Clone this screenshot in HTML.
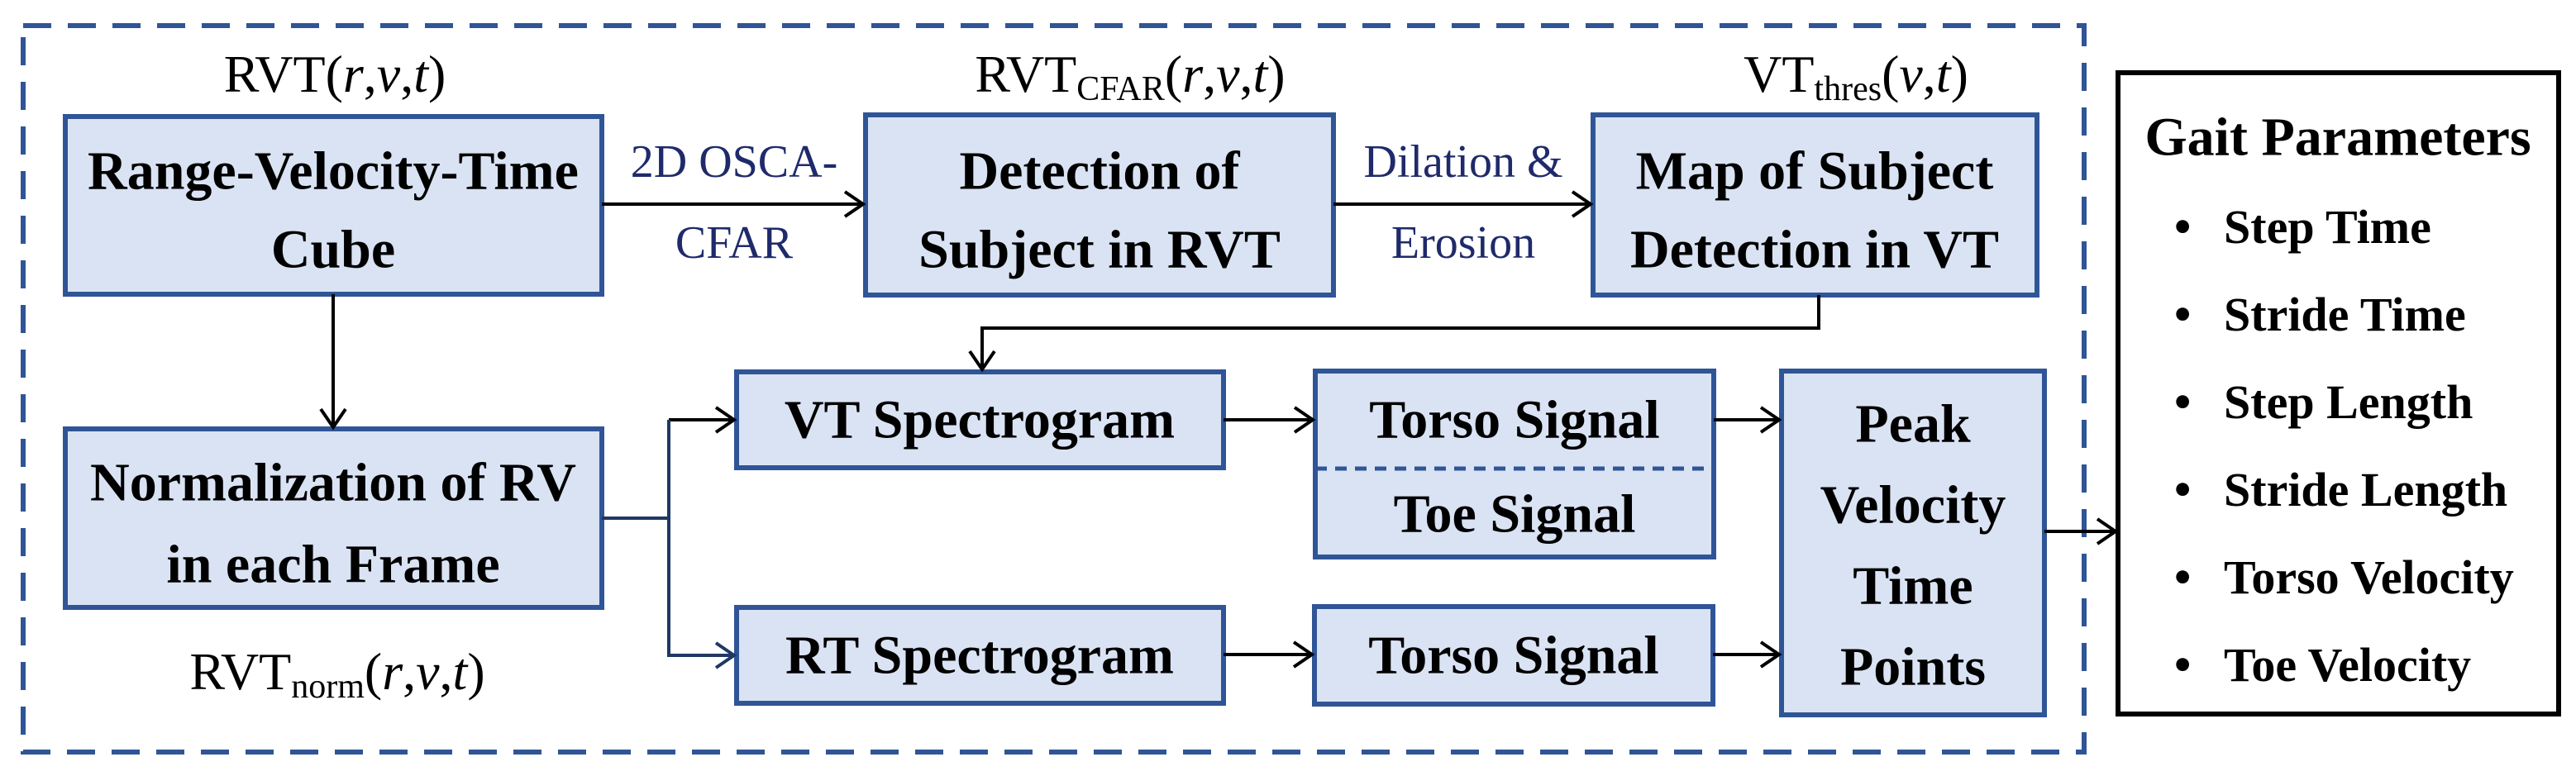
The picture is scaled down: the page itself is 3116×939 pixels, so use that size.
<!DOCTYPE html>
<html><head><meta charset="utf-8"><style>html,body{margin:0;padding:0;background:#fff}svg{display:block}text{font-family:"Liberation Serif","Times New Roman",serif}</style></head>
<body>
<svg width="3116" height="939" viewBox="0 0 3116 939" xmlns="http://www.w3.org/2000/svg">
<rect x="28" y="31" width="2493" height="879" fill="none" stroke="#2f5597" stroke-width="6" stroke-dasharray="34,20"/>
<g fill="#dae3f3" stroke="#2f5597" stroke-width="6">
<rect x="79" y="141" width="649" height="215"/>
<rect x="79" y="519" width="649" height="216"/>
<rect x="1047" y="139" width="566" height="218"/>
<rect x="1927" y="139" width="537" height="218"/>
<rect x="891" y="450" width="589" height="116"/>
<rect x="891" y="735" width="589" height="116"/>
<rect x="1591" y="449" width="482" height="225"/>
<rect x="1590" y="734" width="482" height="118"/>
<rect x="2155" y="449" width="318" height="416"/>
</g>
<line x1="1591" y1="567" x2="2073" y2="567" stroke="#2f5597" stroke-width="5" stroke-dasharray="14,10"/>
<rect x="2562" y="88" width="533" height="776" fill="#fff" stroke="#000" stroke-width="6"/>
<g fill="none" stroke="#000" stroke-width="4">
<path d="M728 247H1044M1022 232L1044 247L1022 262"/>
<path d="M1613 247H1924M1902 232L1924 247L1902 262"/>
<path d="M403 356V517M388 495L403 517L418 495"/>
<path d="M2200 357V397H1188V447M1173 425L1188 447L1203 425"/>
<path d="M1480 508H1588M1566 493L1588 508L1566 523"/>
<path d="M2073 508H2152M2130 493L2152 508L2130 523"/>
<path d="M1480 792H1587M1565 777L1587 792L1565 807"/>
<path d="M2072 792H2152M2130 777L2152 792L2130 807"/>
<path d="M2473 643H2559M2537 628L2559 643L2537 658"/>
<path d="M809 508H888M866 493L888 508L866 523"/>
</g>
<g fill="none" stroke="#1f3864" stroke-width="4">
<path d="M728 627H809M809 508V793H888M866 778L888 793L866 808"/>
</g>
<g font-size="64" text-anchor="middle" fill="#000">
<text x="405" y="111">RVT(<tspan font-style="italic">r</tspan>,<tspan font-style="italic">v</tspan>,<tspan font-style="italic">t</tspan>)</text>
<text x="1367" y="111">RVT<tspan font-size="42" dy="10">CFAR</tspan><tspan dy="-10">(</tspan><tspan font-style="italic">r</tspan>,<tspan font-style="italic">v</tspan>,<tspan font-style="italic">t</tspan>)</text>
<text x="2245" y="111">VT<tspan font-size="42" dy="10">thres</tspan><tspan dy="-10">(</tspan><tspan font-style="italic">v</tspan>,<tspan font-style="italic">t</tspan>)</text>
<text x="408" y="834">RVT<tspan font-size="42" dy="10">norm</tspan><tspan dy="-10">(</tspan><tspan font-style="italic">r</tspan>,<tspan font-style="italic">v</tspan>,<tspan font-style="italic">t</tspan>)</text>
</g>
<g font-size="56" text-anchor="middle" fill="#1f2a6b">
<text x="888" y="214">2D OSCA-</text>
<text x="888" y="312">CFAR</text>
<text x="1770" y="214">Dilation &amp;</text>
<text x="1770" y="312">Erosion</text>
</g>
<g font-size="66" font-weight="bold" text-anchor="middle" fill="#000" dominant-baseline="central">
<text x="403" y="207">Range-Velocity-Time</text>
<text x="403" y="302">Cube</text>
<text x="403" y="584">Normalization of RV</text>
<text x="403" y="683">in each Frame</text>
<text x="1330" y="207">Detection of</text>
<text x="1330" y="302">Subject in RVT</text>
<text x="2195" y="207">Map of Subject</text>
<text x="2195" y="302">Detection in VT</text>
<text x="1185" y="508">VT Spectrogram</text>
<text x="1185" y="793">RT Spectrogram</text>
<text x="1832" y="508">Torso Signal</text>
<text x="1832" y="622">Toe Signal</text>
<text x="1831" y="793">Torso Signal</text>
<text x="2314" y="513">Peak</text>
<text x="2314" y="611">Velocity</text>
<text x="2314" y="709">Time</text>
<text x="2314" y="807">Points</text>
</g>
<g font-weight="bold" fill="#000" dominant-baseline="central">
<text x="2828" y="166" text-anchor="middle" font-size="66">Gait Parameters</text>
<g font-size="58">
<text x="2630" y="274">•<tspan x="2690">Step Time</tspan></text>
<text x="2630" y="380">•<tspan x="2690">Stride Time</tspan></text>
<text x="2630" y="486">•<tspan x="2690">Step Length</tspan></text>
<text x="2630" y="592">•<tspan x="2690">Stride Length</tspan></text>
<text x="2630" y="698">•<tspan x="2690">Torso Velocity</tspan></text>
<text x="2630" y="804">•<tspan x="2690">Toe Velocity</tspan></text>
</g>
</g>
</svg>
</body></html>
